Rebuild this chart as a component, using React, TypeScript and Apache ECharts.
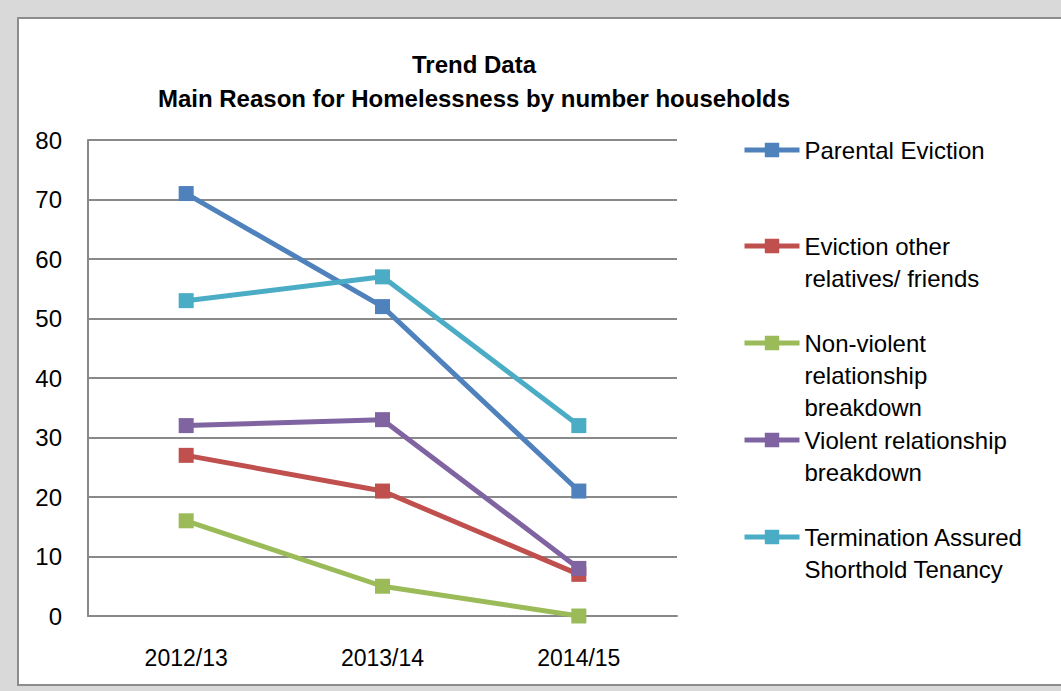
import React, { useEffect, useRef } from "react";
import * as echarts from "echarts";

const categories = ["2012/13", "2013/14", "2014/15"];
const seriesNames = [
  "Parental Eviction",
  "Eviction other relatives/ friends",
  "Non-violent relationship breakdown",
  "Violent relationship breakdown",
  "Termination Assured Shorthold Tenancy",
];
const legendLines = [
  ["Parental Eviction"],
  ["Eviction other", "relatives/ friends"],
  ["Non-violent", "relationship", "breakdown"],
  ["Violent relationship", "breakdown"],
  ["Termination Assured", "Shorthold Tenancy"],
];
const parentalEviction = [71, 52, 21];
const evictionOther = [27, 21, 7];
const nonViolent = [16, 5, 0];
const violent = [32, 33, 8];
const termination = [53, 57, 32];
const seriesValues = [parentalEviction, evictionOther, nonViolent, violent, termination];
const colors = ["#4F81BD", "#C0504D", "#9BBB59", "#8064A2", "#4BACC6"];
const yTicks = { min: 0, max: 80, interval: 10 };

const FONT = "'Liberation Sans', Arial, sans-serif";

export default function App() {
  const ref = useRef<HTMLDivElement>(null);
  useEffect(() => {
    if (!ref.current) return;
    const chart = echarts.init(ref.current, null, { renderer: "svg" });
    const legendLH = 32;
    const legendCenters = [150, 246, 343, 440, 537];
    const legends = seriesNames.map((name, i) => {
      const lines = legendLines[i];
      const n = lines.length;
      const padded = new Array(n - 1).fill("").concat(lines).join("\n");
      const total = 2 * n - 1;
      return {
        data: [name],
        left: 742,
        top: legendCenters[i] - (total * legendLH) / 2,
        padding: 0,
        itemWidth: 55,
        itemHeight: 18,
        selectedMode: false,
        formatter: () => padded,
        lineStyle: { width: 5 },
        textStyle: {
          fontFamily: FONT,
          fontSize: 24,
          color: "#000",
          lineHeight: legendLH,
        },
      };
    });
    chart.setOption({
      animation: false,
      backgroundColor: "#d9d9d9",
      textStyle: { fontFamily: FONT },
      graphic: [
        {
          type: "rect",
          z: -10,
          silent: true,
          shape: { x: 18, y: 18, width: 1100, height: 667 },
          style: { fill: "#ffffff", stroke: "#8c8c8c", lineWidth: 2 },
        },
      ],
      title: {
        text: "Trend Data\nMain Reason for Homelessness by number households",
        left: 474,
        top: 47,
        padding: 0,
        textAlign: "center",
        textStyle: {
          fontFamily: FONT,
          fontSize: 24,
          fontWeight: "bold",
          color: "#000",
          lineHeight: 34,
        },
      },
      legend: legends,
      grid: { left: 88, top: 140, width: 589, height: 476, containLabel: false },
      xAxis: {
        type: "category",
        data: categories,
        boundaryGap: true,
        axisLine: { show: true, lineStyle: { color: "#898989", width: 2 } },
        axisTick: { show: false },
        axisLabel: { color: "#000", fontSize: 23, fontFamily: FONT, margin: 30 },
        splitLine: { show: false },
      },
      yAxis: {
        type: "value",
        min: yTicks.min,
        max: yTicks.max,
        interval: yTicks.interval,
        axisLine: { show: true, lineStyle: { color: "#898989", width: 2 } },
        axisTick: { show: false },
        axisLabel: { color: "#000", fontSize: 24, fontFamily: FONT, margin: 26 },
        splitLine: { show: true, lineStyle: { color: "#898989", width: 2 } },
      },
      series: seriesNames.map((name, i) => ({
        name,
        type: "line",
        data: seriesValues[i],
        symbol: "rect",
        symbolSize: 15,
        showSymbol: true,
        color: colors[i],
        lineStyle: { width: 5, color: colors[i] },
        itemStyle: { color: colors[i] },
      })),
    });
    return () => chart.dispose();
  }, []);
  return (
    <div
      ref={ref}
      style={{ position: "absolute", left: 0, top: 0, width: 1061, height: 691 }}
    />
  );
}
